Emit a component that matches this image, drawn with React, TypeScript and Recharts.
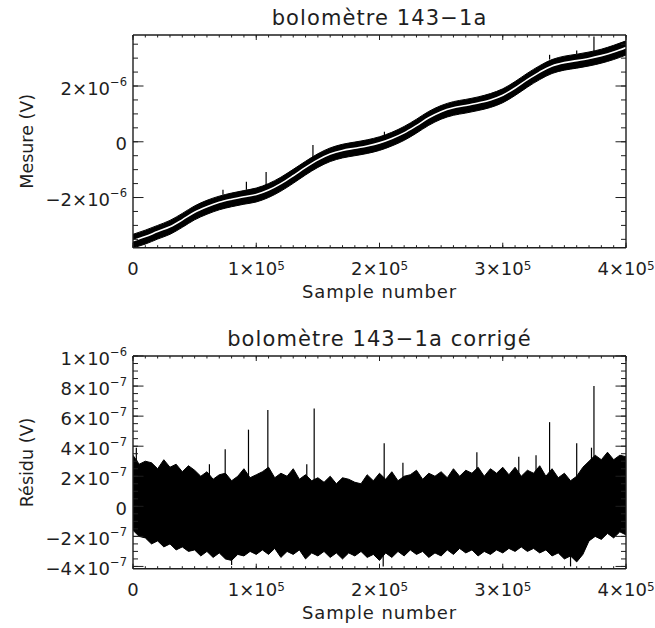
import React from 'react';
import { ComposedChart, Area, Line, XAxis, YAxis, ReferenceLine } from 'recharts';

// ---------- Top panel: "bolomètre 143-1a" (x in thousands of samples, y in 1e-6 V) ----------
const mesureSamplesK = [0, 10, 20, 30, 40, 50, 60, 70, 80, 90, 100, 110, 120, 130, 140, 150, 160, 170, 180, 190, 200, 210, 220, 230, 240, 250, 260, 270, 280, 290, 300, 310, 320, 330, 340, 350, 360, 370, 380, 390, 400];
const mesureFit = [-3.55, -3.40, -3.22, -3.05, -2.80, -2.53, -2.33, -2.17, -2.06, -1.97, -1.89, -1.73, -1.50, -1.22, -0.92, -0.65, -0.44, -0.31, -0.23, -0.15, -0.04, 0.12, 0.32, 0.58, 0.86, 1.08, 1.22, 1.30, 1.39, 1.50, 1.67, 1.93, 2.23, 2.50, 2.72, 2.84, 2.91, 2.99, 3.09, 3.22, 3.38];
const mesureUpper = [-3.32, -3.17, -3.00, -2.82, -2.57, -2.30, -2.10, -1.95, -1.84, -1.75, -1.66, -1.50, -1.27, -0.99, -0.70, -0.43, -0.22, -0.09, -0.01, 0.07, 0.18, 0.34, 0.55, 0.81, 1.09, 1.30, 1.44, 1.52, 1.61, 1.73, 1.90, 2.16, 2.46, 2.73, 2.95, 3.07, 3.14, 3.22, 3.32, 3.46, 3.62];
const mesureLower = [-3.80, -3.67, -3.49, -3.32, -3.07, -2.80, -2.60, -2.44, -2.33, -2.24, -2.16, -2.00, -1.77, -1.49, -1.19, -0.92, -0.71, -0.58, -0.50, -0.42, -0.31, -0.15, 0.05, 0.31, 0.59, 0.81, 0.95, 1.03, 1.12, 1.23, 1.40, 1.66, 1.96, 2.23, 2.45, 2.57, 2.64, 2.72, 2.82, 2.95, 3.11];
const mesureSpikeK = [73, 92, 108, 146, 204, 338, 360, 374];
const mesureSpikeLow = [-1.90, -1.72, -1.55, -0.58, 0.20, 2.95, 3.15, 3.25];
const mesureSpikeHigh = [-1.72, -1.43, -1.08, -0.12, 0.36, 3.12, 3.27, 3.78];

// ---------- Bottom panel: "bolomètre 143-1a corrigé" (y in 1e-7 V) ----------
const residuSamplesK = [0, 5, 10, 15, 20, 25, 30, 35, 40, 45, 50, 55, 60, 65, 70, 75, 80, 85, 90, 95, 100, 105, 110, 115, 120, 125, 130, 135, 140, 145, 150, 155, 160, 165, 170, 175, 180, 185, 190, 195, 200, 205, 210, 215, 220, 225, 230, 235, 240, 245, 250, 255, 260, 265, 270, 275, 280, 285, 290, 295, 300, 305, 310, 315, 320, 325, 330, 335, 340, 345, 350, 355, 360, 365, 370, 375, 380, 385, 390, 395, 400];
const residuUpper = [
  3.4, 2.8, 3.0, 2.9, 2.5, 3.1, 2.6, 2.8, 2.3, 2.7,
  2.4, 2.0, 2.3, 1.8, 2.1, 2.2, 1.7, 2.0, 2.5, 1.9,
  2.1, 2.3, 2.6, 1.9, 2.2, 2.0, 2.5, 1.8, 2.1, 1.7,
  1.9, 1.6, 2.0, 1.5, 1.9, 1.8, 1.6, 1.5, 2.1, 1.7,
  2.2, 1.8, 2.3, 1.7, 2.0, 2.1, 2.4, 1.8, 2.2, 2.0,
  2.3, 1.9, 2.5, 2.0, 2.4, 2.2, 2.6, 2.0, 2.5, 2.2,
  2.6, 2.1, 2.6, 2.0, 2.4, 2.2, 2.7, 2.0, 2.5, 1.9,
  2.2, 1.7, 2.0, 2.6, 3.0, 3.4, 3.1, 3.6, 3.1, 3.4,
  3.3,
];
const residuLower = [
  -1.6, -2.0, -2.1, -2.5, -2.3, -2.7, -2.5, -2.9, -2.7, -3.0,
  -2.9, -3.3, -3.0, -3.4, -3.1, -3.5, -3.6, -3.2, -3.3, -3.0,
  -3.2, -2.9, -3.2, -2.8, -3.4, -3.0, -3.2, -2.9, -3.5, -3.1,
  -3.3, -3.0, -3.4, -3.1, -3.5, -3.1, -3.3, -3.0, -3.4, -3.2,
  -3.6, -3.1, -3.4, -3.0, -3.3, -2.9, -3.2, -3.0, -3.4, -3.1,
  -3.3, -2.9, -3.2, -2.8, -3.1, -2.9, -3.3, -3.0, -3.2, -2.9,
  -3.1, -2.8, -3.0, -2.7, -3.0, -2.8, -3.1, -2.9, -3.3, -3.1,
  -3.5, -3.3, -3.7, -3.2, -2.3, -2.0, -2.2, -1.8, -2.1, -1.7,
  -1.9,
];
const residuSpikeK = [2.7, 62, 74.8, 93.7, 109.4, 141, 147, 203.8, 219, 279, 313, 327, 338, 360, 372, 374, 80, 203, 355];
const residuSpikeLow = [1.0, 1.0, 1.0, 1.0, 1.0, 1.0, 1.0, 1.0, 1.0, 1.0, 1.0, 1.0, 1.0, 1.0, 1.0, 1.0, -2.0, -2.0, -2.0];
const residuSpikeHigh = [3.9, 2.8, 3.8, 5.1, 6.4, 2.8, 6.5, 4.2, 2.9, 3.6, 3.3, 3.4, 5.6, 4.2, 3.9, 8.0, -3.9, -4.0, -4.0];

// ---------- Axis ticks and labels ----------
const xTicksK = [0, 10, 20, 30, 40, 50, 60, 70, 80, 90, 100, 110, 120, 130, 140, 150, 160, 170, 180, 190, 200, 210, 220, 230, 240, 250, 260, 270, 280, 290, 300, 310, 320, 330, 340, 350, 360, 370, 380, 390, 400];
const xMajorK = [0, 100, 200, 300, 400];
const xMajorBase = ['0', '1×10', '2×10', '3×10', '4×10'];
const xMajorExp = ['', '5', '5', '5', '5'];

const mesureYTicks = [-3.5, -3, -2.5, -2, -1.5, -1, -0.5, 0, 0.5, 1, 1.5, 2, 2.5, 3, 3.5];
const mesureYMajor = [-2, 0, 2];
const mesureYBase = ['−2×10', '0', '2×10'];
const mesureYExp = ['−6', '', '−6'];

const residuYTicks = [-4, -3.5, -3, -2.5, -2, -1.5, -1, -0.5, 0, 0.5, 1, 1.5, 2, 2.5, 3, 3.5, 4, 4.5, 5, 5.5, 6, 6.5, 7, 7.5, 8, 8.5, 9, 9.5, 10];
const residuYMajor = [-4, -2, 0, 2, 4, 6, 8, 10];
const residuYBase = ['−4×10', '−2×10', '0', '2×10', '4×10', '6×10', '8×10', '1×10'];
const residuYExp = ['−7', '−7', '', '−7', '−7', '−7', '−7', '−6'];

const FONT = 'DejaVu Sans';
const INK = '#1e1e1e';

type Side = 'bottom' | 'top' | 'left' | 'right';

// Native tick lines draw the short (minor) ticks inward; this draws the longer major ticks and labels.
function makeTick(side: Side, majors: number[], bases: string[] | null, exps: string[] | null, majorLen: number) {
  return (props: any) => {
    const x = Number(props.x);
    const y = Number(props.y);
    const v = props.payload ? props.payload.value : NaN;
    const idx = majors.findIndex((m) => Math.abs(m - v) < 1e-6);
    if (idx < 0) return <g />;
    let d = '';
    if (side === 'bottom') d = `M${x},${y}V${y - majorLen}`;
    if (side === 'top') d = `M${x},${y}V${y + majorLen}`;
    if (side === 'left') d = `M${x},${y}H${x + majorLen}`;
    if (side === 'right') d = `M${x},${y}H${x - majorLen}`;
    let label: any = null;
    if (bases && exps) {
      const exp = exps[idx];
      if (side === 'bottom') {
        label = (
          <text x={x} y={y + 27.3} textAnchor="middle" fontSize={18} fontFamily={FONT} fill={INK} stroke="none">
            {bases[idx]}
            {exp ? <tspan dy={-5.5} fontSize={12}>{exp}</tspan> : null}
          </text>
        );
      } else if (side === 'left') {
        label = (
          <text x={x - 6} y={y + 8.5} textAnchor="end" fontSize={18} fontFamily={FONT} fill={INK} stroke="none">
            {bases[idx]}
            {exp ? <tspan dy={-9} fontSize={11.5}>{exp}</tspan> : null}
          </text>
        );
      }
    }
    return (
      <g>
        <path d={d} stroke={INK} strokeWidth={1} fill="none" />
        {label}
      </g>
    );
  };
}

const CH_W = 655;
const CH_H = 310;
const MARGIN = { top: 34, right: 28, bottom: 0, left: 0 };
const X_MINOR = 2.5;
const Y_MINOR = 5;

function Panel(props: {
  rows: any[];
  yDomain: [number, number];
  yTicks: number[];
  yMajor: number[];
  yBase: string[];
  yExp: string[];
  spikeK: number[];
  spikeLow: number[];
  spikeHigh: number[];
  showFit: boolean;
  bandType: 'linear' | 'monotone';
}) {
  const { rows, yDomain, yTicks, yMajor, yBase, yExp, spikeK, spikeLow, spikeHigh, showFit, bandType } = props;
  const tickLine = { stroke: INK, strokeWidth: 1 };
  const axisLine = { stroke: INK, strokeWidth: 1.4 };
  return (
    <ComposedChart width={CH_W} height={CH_H} data={rows} margin={MARGIN}>
      <XAxis
        xAxisId="b"
        dataKey="s"
        type="number"
        domain={[0, 400]}
        allowDataOverflow
        ticks={xTicksK}
        interval={0}
        height={62.3}
        tickSize={-X_MINOR}
        tickMargin={X_MINOR}
        tickLine={tickLine}
        axisLine={axisLine}
        tick={makeTick('bottom', xMajorK, xMajorBase, xMajorExp, 5)}
      />
      <XAxis
        xAxisId="t"
        orientation="top"
        dataKey="s"
        type="number"
        domain={[0, 400]}
        allowDataOverflow
        ticks={xTicksK}
        interval={0}
        height={1}
        tickSize={-X_MINOR}
        tickMargin={X_MINOR}
        tickLine={tickLine}
        axisLine={axisLine}
        tick={makeTick('top', xMajorK, null, null, 5)}
      />
      <YAxis
        yAxisId="l"
        type="number"
        domain={yDomain}
        allowDataOverflow
        ticks={yTicks}
        interval={0}
        width={133}
        tickSize={-Y_MINOR}
        tickMargin={Y_MINOR}
        tickLine={tickLine}
        axisLine={axisLine}
        tick={makeTick('left', yMajor, yBase, yExp, 10.5)}
      />
      <YAxis
        yAxisId="r"
        orientation="right"
        type="number"
        domain={yDomain}
        allowDataOverflow
        ticks={yTicks}
        interval={0}
        width={1}
        tickSize={-Y_MINOR}
        tickMargin={Y_MINOR}
        tickLine={tickLine}
        axisLine={axisLine}
        tick={makeTick('right', yMajor, null, null, 10.5)}
      />
      <Line
        xAxisId="t"
        yAxisId="r"
        dataKey="ghost"
        stroke="none"
        dot={false}
        activeDot={false}
        isAnimationActive={false}
      />
      <Area
        xAxisId="b"
        yAxisId="l"
        dataKey="band"
        type={bandType}
        stroke="#000"
        strokeWidth={1}
        fill="#000"
        fillOpacity={1}
        isAnimationActive={false}
        dot={false}
        activeDot={false}
      />
      {showFit ? (
        <Line
          xAxisId="b"
          yAxisId="l"
          dataKey="fit"
          type="monotone"
          stroke="#ffffff"
          strokeWidth={1.6}
          dot={false}
          activeDot={false}
          isAnimationActive={false}
        />
      ) : null}
      {spikeK.map((k, i) => (
        <ReferenceLine
          key={'sp' + i}
          xAxisId="b"
          yAxisId="l"
          segment={[
            { x: k, y: spikeLow[i] },
            { x: k, y: spikeHigh[i] },
          ]}
          stroke="#000"
          strokeWidth={1.2}
          ifOverflow="visible"
        />
      ))}
    </ComposedChart>
  );
}

export default function App() {
  const mesureRows = mesureSamplesK.map((s, i) => ({
    s,
    fit: mesureFit[i],
    ghost: mesureFit[i],
    band: [mesureLower[i], mesureUpper[i]],
  }));
  const residuRows = residuSamplesK.map((s, i) => ({
    s,
    ghost: residuLower[i],
    band: [residuLower[i], residuUpper[i]],
  }));
  const textStyle = { fontFamily: FONT, fill: INK } as any;
  return (
    <div style={{ position: 'absolute', left: 0, top: 0, width: 655, height: 628, background: '#fff' }}>
      <div style={{ position: 'absolute', left: 0, top: 0 }}>
        <Panel
          rows={mesureRows}
          yDomain={[-3.8, 3.83]}
          yTicks={mesureYTicks}
          yMajor={mesureYMajor}
          yBase={mesureYBase}
          yExp={mesureYExp}
          spikeK={mesureSpikeK}
          spikeLow={mesureSpikeLow}
          spikeHigh={mesureSpikeHigh}
          showFit={true}
          bandType="monotone"
        />
      </div>
      <div style={{ position: 'absolute', left: 0, top: 321 }}>
        <Panel
          rows={residuRows}
          yDomain={[-4.15, 10]}
          yTicks={residuYTicks}
          yMajor={residuYMajor}
          yBase={residuYBase}
          yExp={residuYExp}
          spikeK={residuSpikeK}
          spikeLow={residuSpikeLow}
          spikeHigh={residuSpikeHigh}
          showFit={false}
          bandType="linear"
        />
      </div>
      <svg width={655} height={628} style={{ position: 'absolute', left: 0, top: 0, pointerEvents: 'none' }}>
        <text x={379.5} y={25} textAnchor="middle" fontSize={21} letterSpacing={1.1} {...textStyle}>bolomètre 143−1a</text>
        <text x={379.5} y={298} textAnchor="middle" fontSize={18} letterSpacing={0.9} {...textStyle}>Sample number</text>
        <text x={33} y={141.3} textAnchor="middle" fontSize={17.5} transform="rotate(-90 33 141.3)" {...textStyle}>Mesure (V)</text>
        <text x={379.5} y={346} textAnchor="middle" fontSize={21} letterSpacing={1.1} {...textStyle}>bolomètre 143−1a corrigé</text>
        <text x={379.5} y={619} textAnchor="middle" fontSize={18} letterSpacing={0.9} {...textStyle}>Sample number</text>
        <text x={33} y={462.5} textAnchor="middle" fontSize={17.5} transform="rotate(-90 33 462.5)" {...textStyle}>Résidu (V)</text>
      </svg>
    </div>
  );
}
